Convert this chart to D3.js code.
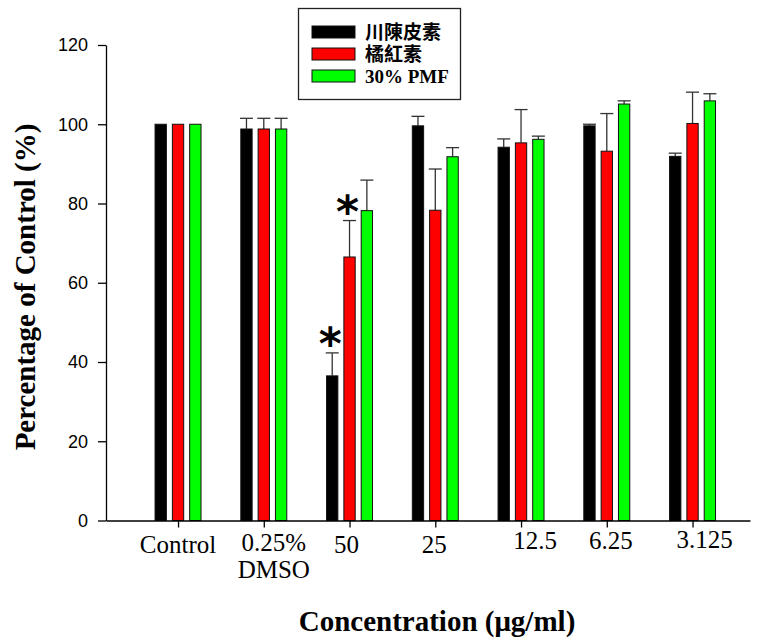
<!DOCTYPE html>
<html>
<head>
<meta charset="utf-8">
<script src="https://cdn.jsdelivr.net/npm/d3@7"></script>
<style>
  html, body { margin: 0; padding: 0; background: #fff; }
  svg { display: block; }
</style>
</head>
<body>
<svg id="chart" width="758" height="643"></svg>
<script>
// ---- data ----
const categories = ["Control", "0.25%\nDMSO", "50", "25", "12.5", "6.25", "3.125"];
const seriesNames = ["川陳皮素", "橘紅素", "30% PMF"];
const seriesColors = ["#000000", "#ff0000", "#00ff00"];
const valuesA = [100, 98.8, 36.5, 99.6, 94.2, 99.6, 91.9];
const errorsA = [0, 2.7, 5.8, 2.4, 2.1, 0.4, 0.8];
const valuesB = [100, 98.8, 66.5, 78.3, 95.3, 93.2, 100.2];
const errorsB = [0, 2.7, 9.2, 10.4, 8.4, 9.5, 7.9];
const valuesC = [100, 98.8, 78.2, 91.8, 96.2, 105.1, 105.9];
const errorsC = [0, 2.7, 7.7, 2.3, 0.8, 0.8, 1.8];
const significant = [[2], [2], []]; // category indices marked with *
const yTicks = [0, 20, 40, 60, 80, 100, 120];
const xTitle = "Concentration (μg/ml)";
const yTitle = "Percentage of Control (%)";

// ---- layout ----
const labelDx = [0, 10, -3, -1, 14, 4, 12];
const labelDy = [0, -2, 0, 0, -4, -4, -5];

const series = [valuesA, valuesB, valuesC].map((vals, s) => ({
  name: seriesNames[s], color: seriesColors[s],
  points: vals.map((v, i) => ({ i, v, e: [errorsA, errorsB, errorsC][s][i], s }))
}));

const svg = d3.select("#chart");
const x = d3.scaleLinear().domain([-0.84, 6.67]).range([106, 750]);
const y = d3.scaleLinear().domain([0, 120]).range([520.5, 45]);
const offset = 0.202, bw = 0.132;
const bwPx = x(bw) - x(0);

// bars
const g = svg.append("g");
series.forEach((ser, s) => {
  const cx = d => x(d.i + (s - 1) * offset);
  // error bars (upper only)
  const eb = g.append("g").attr("stroke", "#333").attr("stroke-width", 1.3).attr("fill", "none");
  eb.selectAll("line.v").data(ser.points.filter(d => d.e > 0)).join("line")
    .attr("x1", cx).attr("x2", cx)
    .attr("y1", d => y(d.v)).attr("y2", d => y(d.v + d.e));
  eb.selectAll("line.c").data(ser.points.filter(d => d.e > 0)).join("line")
    .attr("x1", d => cx(d) - 6.5).attr("x2", d => cx(d) + 6.5)
    .attr("y1", d => y(d.v + d.e)).attr("y2", d => y(d.v + d.e));
  g.append("g").selectAll("rect").data(ser.points).join("rect")
    .attr("x", d => cx(d) - bwPx / 2)
    .attr("width", bwPx)
    .attr("y", d => y(d.v))
    .attr("height", d => y(0) - y(d.v))
    .attr("fill", ser.color)
    .attr("stroke", "#111")
    .attr("stroke-width", 1);
  // significance stars
  g.append("g").selectAll("text").data(ser.points.filter(d => significant[s].includes(d.i))).join("text")
    .attr("x", d => cx(d) - 2)
    .attr("y", d => y(d.v + d.e) - 16)
    .attr("text-anchor", "middle")
    .attr("dominant-baseline", "central")
    .attr("dy", "0.15em")
    .attr("font-family", "'DejaVu Sans', sans-serif")
    .attr("font-weight", "bold")
    .attr("font-size", 44)
    .text("*");
});

// axes
const xAxis = svg.append("g").attr("transform", `translate(0,${y(0)})`)
  .call(d3.axisBottom(x).tickValues(d3.range(categories.length)).tickFormat(() => "").tickSize(7).tickSizeOuter(0));
xAxis.selectAll("path, line").attr("stroke", "#000").attr("stroke-width", 1.3);

const yAxis = svg.append("g").attr("transform", `translate(${x(-0.84)},0)`)
  .call(d3.axisLeft(y).tickValues(yTicks).tickSize(8).tickPadding(10).tickSizeOuter(0));
yAxis.selectAll("path, line").attr("stroke", "#000").attr("stroke-width", 1.3);
yAxis.selectAll("text").attr("font-family", "'Liberation Sans', Arial, sans-serif").attr("font-size", 18).attr("fill", "#000");

// x category labels
const lab = svg.append("g").attr("font-family", "'Liberation Serif', 'Times New Roman', serif").attr("font-size", 25).attr("fill", "#000");
categories.forEach((c, i) => {
  const t = lab.append("text").attr("text-anchor", "middle")
    .attr("x", x(i) + labelDx[i]).attr("y", 553 + labelDy[i]);
  c.split("\n").forEach((line, k) => {
    t.append("tspan").attr("x", x(i) + labelDx[i]).attr("dy", k === 0 ? 0 : 26.5).text(line);
  });
});

// axis titles
svg.append("text").attr("x", 437).attr("y", 631).attr("text-anchor", "middle")
  .attr("font-family", "'Liberation Serif', 'Times New Roman', serif").attr("font-weight", "bold").attr("font-size", 29)
  .text(xTitle);
svg.append("text").attr("transform", "translate(35,287) rotate(-90)").attr("text-anchor", "middle")
  .attr("font-family", "'Liberation Serif', 'Times New Roman', serif").attr("font-weight", "bold").attr("font-size", 29)
  .text(yTitle);

// legend
const lg = svg.append("g");
lg.append("rect").attr("x", 298.5).attr("y", 8.5).attr("width", 162).attr("height", 91)
  .attr("fill", "#fff").attr("stroke", "#222").attr("stroke-width", 1.3);
series.forEach((ser, s) => {
  const ry = 26 + s * 22;
  lg.append("rect").attr("x", 312).attr("y", ry).attr("width", 43).attr("height", 12)
    .attr("fill", ser.color).attr("stroke", "#111").attr("stroke-width", 1);
  lg.append("text").attr("x", 365).attr("y", ry + 12.5)
    .attr("font-family", "'Liberation Serif', 'Noto Sans CJK TC', serif")
    .attr("font-weight", "bold").attr("font-size", 19)
    .text(ser.name);
});
</script>
</body>
</html>
